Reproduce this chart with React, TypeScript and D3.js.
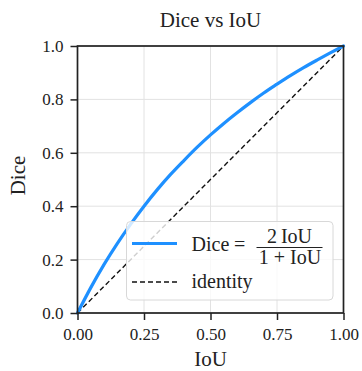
import { useEffect, useRef } from "react";
import * as d3 from "d3";

// values
const iou = [0, 0.05, 0.1, 0.15, 0.2, 0.25, 0.3, 0.35, 0.4, 0.45, 0.5, 0.55, 0.6, 0.65, 0.7, 0.75, 0.8, 0.85, 0.9, 0.95, 1.0];
const dice = [0, 0.095, 0.182, 0.261, 0.333, 0.4, 0.462, 0.519, 0.571, 0.621, 0.667, 0.71, 0.75, 0.788, 0.824, 0.857, 0.889, 0.919, 0.947, 0.974, 1.0];
const identity = [0, 1];
const xTicks = [0, 0.25, 0.5, 0.75, 1.0];
const yTicks = [0, 0.2, 0.4, 0.6, 0.8, 1.0];

const FONT = "'Liberation Serif', 'DejaVu Serif', serif";

export default function App() {
  const svgRef = useRef<SVGSVGElement>(null);

  useEffect(() => {
    const svgEl = svgRef.current;
    if (!svgEl) return;
    const svg = d3.select(svgEl);
    svg.selectAll("*").remove();

    const width = 362;
    const height = 371;
    const margin = { top: 46, right: 18.5, bottom: 58, left: 77.5 };

    const x = d3.scaleLinear().domain([0, 1]).range([margin.left, width - margin.right]);
    const y = d3.scaleLinear().domain([0, 1]).range([height - margin.bottom, margin.top]);

    // grid
    const grid = svg.append("g").attr("stroke", "#e2e2e2").attr("stroke-width", 1);
    xTicks.forEach((t) => {
      grid.append("line").attr("x1", x(t)).attr("x2", x(t)).attr("y1", y(0)).attr("y2", y(1));
    });
    yTicks.forEach((t) => {
      grid.append("line").attr("x1", x(0)).attr("x2", x(1)).attr("y1", y(t)).attr("y2", y(t));
    });

    // identity line
    svg.append("path")
      .datum(identity)
      .attr("fill", "none")
      .attr("stroke", "#111")
      .attr("stroke-width", 1.4)
      .attr("stroke-dasharray", "5,3")
      .attr("d", d3.line<number>().x((d) => x(d)).y((d) => y(d)));

    // dice curve
    svg.append("path")
      .datum(iou.map((v, i) => [v, dice[i]] as [number, number]))
      .attr("fill", "none")
      .attr("stroke", "#1e90ff")
      .attr("stroke-width", 3.2)
      .attr("stroke-linecap", "round")
      .attr("d", d3.line().x((d) => x(d[0])).y((d) => y(d[1])).curve(d3.curveMonotoneX));

    // frame
    svg.append("rect")
      .attr("x", x(0)).attr("y", y(1))
      .attr("width", x(1) - x(0)).attr("height", y(0) - y(1))
      .attr("fill", "none").attr("stroke", "#222").attr("stroke-width", 1.7);

    // axes
    const xAxis = svg.append("g")
      .attr("transform", `translate(0,${y(0)})`)
      .call(d3.axisBottom(x).tickValues(xTicks).tickFormat(d3.format(".2f")).tickSize(7).tickPadding(8));
    const yAxis = svg.append("g")
      .attr("transform", `translate(${x(0)},0)`)
      .call(d3.axisLeft(y).tickValues(yTicks).tickFormat(d3.format(".1f")).tickSize(7).tickPadding(7));
    [xAxis, yAxis].forEach((g) => {
      g.select(".domain").remove();
      g.selectAll("line").attr("stroke", "#222").attr("stroke-width", 1.5);
      g.selectAll("text").attr("fill", "#222").style("font-family", FONT).style("font-size", "17px");
    });

    // title and labels
    svg.append("text").attr("x", (x(0) + x(1)) / 2).attr("y", 27)
      .attr("text-anchor", "middle").style("font-family", FONT).style("font-size", "21px")
      .attr("fill", "#222").text("Dice vs IoU");
    svg.append("text").attr("x", (x(0) + x(1)) / 2).attr("y", 366)
      .attr("text-anchor", "middle").style("font-family", FONT).style("font-size", "21px")
      .attr("fill", "#222").text("IoU");
    svg.append("text")
      .attr("transform", `translate(25,${(y(0) + y(1)) / 2 - 4}) rotate(-90)`)
      .attr("text-anchor", "middle").style("font-family", FONT).style("font-size", "21px")
      .attr("fill", "#222").text("Dice");

    // legend
    const lg = svg.append("g");
    lg.append("rect").attr("x", 126.5).attr("y", 221.5).attr("width", 206.5).attr("height", 78.5)
      .attr("rx", 4).attr("fill", "white").attr("fill-opacity", 0.8)
      .attr("stroke", "#d8d8d8").attr("stroke-width", 1);
    lg.append("line").attr("x1", 132).attr("x2", 177).attr("y1", 243.5).attr("y2", 243.5)
      .attr("stroke", "#1e90ff").attr("stroke-width", 3.2);
    lg.append("line").attr("x1", 132).attr("x2", 177).attr("y1", 282).attr("y2", 282)
      .attr("stroke", "#111").attr("stroke-width", 1.4).attr("stroke-dasharray", "5,3");
    const ts = (sel: any, size: number) => sel.style("font-family", FONT).style("font-size", `${size}px`).attr("fill", "#222");
    ts(lg.append("text").attr("x", 191.5).attr("y", 251).text("Dice"), 20);
    ts(lg.append("text").attr("x", 234).attr("y", 251).text("="), 20);
    ts(lg.append("text").attr("x", 289.5).attr("y", 242.5).attr("text-anchor", "middle").text("2\u2009IoU"), 20);
    lg.append("line").attr("x1", 256.5).attr("x2", 322.5).attr("y1", 247.5).attr("y2", 247.5)
      .attr("stroke", "#222").attr("stroke-width", 1.1);
    ts(lg.append("text").attr("x", 290).attr("y", 264).attr("text-anchor", "middle").text("1 + IoU"), 20);
    ts(lg.append("text").attr("x", 191.5).attr("y", 288).text("identity"), 20);
  }, []);

  return <svg ref={svgRef} width={362} height={371} style={{ position: "absolute", left: 0, top: 0, background: "white" }} />;
}
